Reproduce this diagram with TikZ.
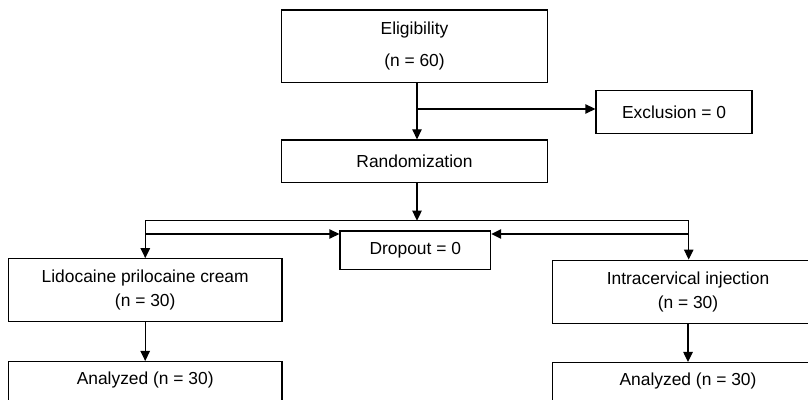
\documentclass[tikz,border=0pt]{standalone}
\usepackage{fontspec}
\setsansfont{Liberation Sans}
\usepackage{tikz}
\usetikzlibrary{arrows.meta, positioning, calc}
\tikzset{
  flowbox/.style = {rectangle, draw=black, line width=0.6pt, align=center, inner sep=0pt, text centered, font=\sffamily\fontsize{8.7}{12}\selectfont},
  box_big/.style = {flowbox, minimum width=132.8pt, minimum height=36.3pt},
  box_mid/.style = {flowbox, minimum width=132.8pt, minimum height=21.3pt},
  box_side/.style = {flowbox, minimum height=21.3pt},
  box_arm/.style = {flowbox, minimum height=31.5pt},
  box_end/.style = {flowbox, anchor=north, inner ysep=5pt, text height=6.4pt, text depth=22pt}
}
\begin{document}
\begin{tikzpicture}[->,>={Triangle[length=5pt,width=4.7pt]}, x=0.5pt, y=-0.5pt, line width=0.6pt]
  \useasboundingbox (0,0) rectangle (808,400);
  \clip (0,0) rectangle (808,400);
  % boxes
  \node [box_big] (elig) at (414.5,46.3) {Eligibility\\[4pt](n = 60)};
  \node [box_side, minimum width=78pt] (excl) at (674,112) {Exclusion = 0};
  \node [box_mid] (rand) at (414.5,161.3) {Randomization};
  \node [box_side, minimum width=75.3pt, minimum height=19.2pt] (drop) at (415.3,250.2) {Dropout = 0};
  \node [box_arm, minimum width=136.8pt] (lido) at (145.2,290.3) {Lidocaine prilocaine cream\\(n = 30)};
  \node [box_arm, minimum width=135.5pt] (inj) at (688,291.7) {Intracervical injection\\(n = 30)};
  \node [box_end, minimum width=136.8pt] (anl) at (145.2,361) {Analyzed (n = 30)};
  \node [box_end, minimum width=135.5pt] (anr) at (688,362) {Analyzed (n = 30)};
  % branch points
  \coordinate (sp) at (417,109);
  \coordinate (hb) at (417,220.7);
  \coordinate (bl) at (145.3,220.7);
  \coordinate (br) at (688.7,220.7);
  \coordinate (dl) at (145.3,234);
  \coordinate (dr) at (688.7,234);
  % connectors
  \draw (elig.south -| sp) -- (rand.north -| sp);
  \draw (sp) -- (sp -| excl.west);
  \draw (rand.south -| hb) -- (hb);
  \draw [-] (bl) -- (br);
  \draw (bl) -- (lido.north -| bl);
  \draw (br) -- (inj.north -| br);
  \draw (dl) -- (dl -| drop.west);
  \draw (dr) -- (dr -| drop.east);
  \draw (lido.south) -- (anl.north);
  \draw (inj.south) -- (anr.north);
\end{tikzpicture}
\end{document}
